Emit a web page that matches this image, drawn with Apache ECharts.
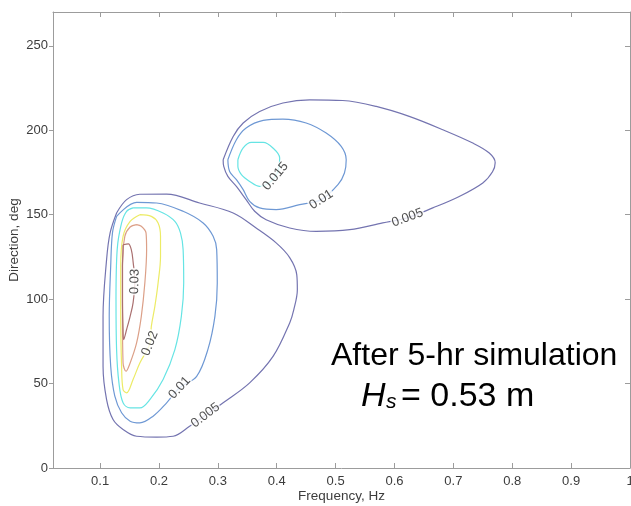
<!DOCTYPE html>
<html>
<head>
<meta charset="utf-8">
<script src="https://cdn.jsdelivr.net/npm/echarts@6/dist/echarts.min.js"></script>
<style>
  html, body { margin: 0; padding: 0; background: #fff; }
  #chart { width: 631px; height: 506px; }
</style>
</head>
<body>
<div id="chart"></div>
<script>
// Directional wave spectrum contours: frequency (Hz) vs direction (deg).
// Each contour loop is a list of [frequency, direction] points.

const contourLevels = [0.005, 0.01, 0.015, 0.02, 0.025, 0.03];

const xTickValues = [0.1, 0.2, 0.3, 0.4, 0.5, 0.6, 0.7, 0.8, 0.9, 1.0];
const yTickValues = [0, 50, 100, 150, 200, 250];

// Low-frequency system (lower left)
const swellA_005 = [[0.128,151.0],[0.145,158.9],[0.1675,162.1],[0.213,162.2],[0.269,156.9],[0.326,151.0],[0.365,142.1],[0.399,133.3],[0.422,124.6],[0.434,114.5],[0.435,105.6],[0.429,93.8],[0.422,85.9],[0.394,66.2],[0.354,50.4],[0.309,38.6],[0.279,31.2],[0.252,24.7],[0.224,18.8],[0.196,18.3],[0.162,18.8],[0.139,22.8],[0.122,28.7],[0.111,40.5],[0.105,60.2],[0.105,89.8],[0.111,123.4],[0.117,139.2],[0.128,151.0]];
const swellA_010 = [[0.128,149.0],[0.162,157.3],[0.196,156.9],[0.241,152.0],[0.275,145.1],[0.292,137.2],[0.298,129.3],[0.299,109.6],[0.295,89.8],[0.283,70.1],[0.264,54.3],[0.235,47.5],[0.213,38.6],[0.190,30.7],[0.1675,26.7],[0.151,27.7],[0.1365,32.7],[0.125,42.5],[0.118,60.2],[0.1155,89.8],[0.118,119.4],[0.121,139.2],[0.128,149.0]];
const swellA_015 = [[0.156,154.0],[0.179,154.0],[0.207,151.0],[0.227,146.0],[0.2365,139.2],[0.241,129.3],[0.242,109.6],[0.238,89.8],[0.227,70.1],[0.207,52.4],[0.1845,40.5],[0.1675,35.6],[0.151,35.6],[0.139,38.6],[0.132,50.4],[0.128,70.1],[0.127,99.7],[0.129,129.3],[0.1365,145.1],[0.145,152.0],[0.156,154.0]];
const swellA_020 = [[0.1675,150.0],[0.187,149.0],[0.1985,145.1],[0.2026,137.2],[0.2026,125.3],[0.1985,109.6],[0.193,95.7],[0.187,83.9],[0.1845,73.7],[0.1675,62.2],[0.156,52.4],[0.145,44.5],[0.139,46.4],[0.1365,60.2],[0.135,89.8],[0.135,119.4],[0.139,137.2],[0.151,146.0],[0.1675,150.0]];
const swellA_025 = [[0.162,144.1],[0.170,143.1],[0.178,139.2],[0.179,129.3],[0.176,109.6],[0.170,89.8],[0.162,74.1],[0.151,62.2],[0.144,57.3],[0.139,62.2],[0.138,89.8],[0.138,119.4],[0.142,137.2],[0.151,142.7],[0.162,144.1]];
const swellA_030 = [[0.139,132.2],[0.148,132.7],[0.153,129.3],[0.156,122.2],[0.159,110.4],[0.156,97.8],[0.151,89.8],[0.145,82.0],[0.140,76.0],[0.139,82.0],[0.138,99.7],[0.138,119.4],[0.139,129.3],[0.139,132.2]];

// Higher-frequency system (upper right)
const seaB_005 = [[0.309,182.5],[0.326,196.3],[0.343,204.3],[0.371,211.1],[0.4105,216.1],[0.456,218.0],[0.512,217.6],[0.569,214.1],[0.625,208.2],[0.682,200.3],[0.733,192.4],[0.761,186.5],[0.771,180.8],[0.7665,175.4],[0.750,168.8],[0.710,160.8],[0.665,154.0],[0.622,148.2],[0.580,145.1],[0.524,141.1],[0.467,140.1],[0.422,142.1],[0.382,147.0],[0.3625,152.0],[0.348,158.9],[0.3315,166.7],[0.317,172.7],[0.310,178.6],[0.309,182.5]];
const seaB_010 = [[0.317,182.5],[0.3315,194.4],[0.348,201.3],[0.377,205.8],[0.4105,206.6],[0.450,204.3],[0.484,198.3],[0.5095,190.4],[0.518,182.5],[0.515,174.7],[0.504,167.8],[0.4756,158.9],[0.439,155.9],[0.399,153.0],[0.371,154.0],[0.354,157.9],[0.343,164.8],[0.3315,170.7],[0.320,175.6],[0.317,182.5]];
const seaB_015 = [[0.334,182.5],[0.343,189.5],[0.357,192.8],[0.377,192.8],[0.3935,189.5],[0.405,183.6],[0.398,172.7],[0.371,166.7],[0.354,169.7],[0.340,173.7],[0.334,178.6],[0.334,182.5]];

// Inline contour labels: level text and anchor point [frequency, direction]
const labelTexts  = ['0.005', '0.01', '0.02', '0.03', '0.015', '0.01', '0.005'];
const labelPoints = [[0.279,31.2],[0.235,47.5],[0.1845,73.7],[0.159,110.4],[0.398,172.7],[0.4756,158.9],[0.622,148.2]];

// ---- rendering ----
const levelColor = {
  0.005: '#7474b0',
  0.01:  '#6e98d4',
  0.015: '#66e4e4',
  0.02:  '#eceb66',
  0.025: '#dca088',
  0.03:  '#aa7070'
};
const labelAngles = [37, 47, 68, 88, 50, 33, 20];

const loops = [
  [swellA_005, 0.005], [swellA_010, 0.01], [swellA_015, 0.015],
  [swellA_020, 0.02], [swellA_025, 0.025], [swellA_030, 0.03],
  [seaB_005, 0.005], [seaB_010, 0.01], [seaB_015, 0.015]
];

const FONT = '"Liberation Sans", Arial, Helvetica, sans-serif';
const AXIS_GRAY = '#9c9c9c';
const TEXT_GRAY = '#3c3c3c';

const series = loops.map(([pts, lvl]) => ({
  type: 'line',
  name: String(lvl),
  data: pts,
  showSymbol: false,
  symbol: 'none',
  smooth: 0.35,
  silent: true,
  z: 2,
  lineStyle: { color: levelColor[lvl], width: 1.2 }
}));

series.push({
  type: 'scatter',
  name: 'labels',
  silent: true,
  z: 5,
  symbolSize: 1,
  itemStyle: { color: 'rgba(0,0,0,0)' },
  data: labelPoints.map((p, i) => ({
    value: p,
    name: labelTexts[i],
    label: { rotate: labelAngles[i] }
  })),
  label: {
    show: true,
    position: 'inside',
    formatter: (p) => p.name,
    color: '#262626',
    fontSize: 13,
    fontFamily: FONT,
    backgroundColor: '#fff',
    padding: [0, 1]
  }
});

const xLabelFmt = (v) => (Math.abs(v - 1) < 1e-9 ? '1' : Number(v).toFixed(1));

const option = {
  animation: false,
  backgroundColor: '#fff',
  grid: { left: 53, right: 1, top: 12, bottom: 38, outerBoundsMode: 'none', containLabel: false },
  xAxis: [
    {
      type: 'value', min: 0.02, max: 1.0, position: 'bottom',
      name: 'Frequency, Hz', nameLocation: 'middle', nameGap: 21, nameMoveOverlap: false,
      nameTextStyle: { fontFamily: FONT, fontSize: 13.5, color: TEXT_GRAY },
      axisLine: { show: true, onZero: false, lineStyle: { color: AXIS_GRAY, width: 1 } },
      axisTick: { show: true, inside: true, length: 5, customValues: xTickValues, lineStyle: { color: AXIS_GRAY } },
      axisLabel: { customValues: xTickValues, formatter: xLabelFmt, margin: 7, fontFamily: FONT, fontSize: 13, color: TEXT_GRAY },
      splitLine: { show: false }
    },
    {
      type: 'value', min: 0.02, max: 1.0, position: 'top',
      axisLine: { show: true, onZero: false, lineStyle: { color: AXIS_GRAY, width: 1 } },
      axisTick: { show: true, inside: true, length: 5, customValues: xTickValues, lineStyle: { color: AXIS_GRAY } },
      axisLabel: { show: false },
      splitLine: { show: false }
    }
  ],
  yAxis: [
    {
      type: 'value', min: 0, max: 270, position: 'left',
      name: 'Direction, deg', nameLocation: 'middle', nameGap: 32, nameRotate: 90, nameMoveOverlap: false,
      nameTextStyle: { fontFamily: FONT, fontSize: 13.5, color: TEXT_GRAY },
      axisLine: { show: true, onZero: false, lineStyle: { color: AXIS_GRAY, width: 1 } },
      axisTick: { show: true, inside: false, length: 4, customValues: yTickValues, lineStyle: { color: AXIS_GRAY } },
      axisLabel: { customValues: yTickValues, margin: 5, fontFamily: FONT, fontSize: 13, color: TEXT_GRAY },
      splitLine: { show: false }
    },
    {
      type: 'value', min: 0, max: 270, position: 'right',
      axisLine: { show: true, onZero: false, lineStyle: { color: AXIS_GRAY, width: 1 } },
      axisTick: { show: true, inside: true, length: 5, customValues: yTickValues, lineStyle: { color: AXIS_GRAY } },
      axisLabel: { show: false },
      splitLine: { show: false }
    }
  ],
  graphic: [
    { type: 'text', x: 331, y: 356, z: 10,
      style: { text: 'After 5-hr simulation', font: '32px ' + FONT, fill: '#000', verticalAlign: 'middle', align: 'left' } },
    { type: 'text', x: 361, y: 397, z: 10,
      style: { text: 'H', font: 'italic 34px ' + FONT, fill: '#000', verticalAlign: 'middle', align: 'left' } },
    { type: 'text', x: 386, y: 402, z: 10,
      style: { text: 's', font: 'italic 21px ' + FONT, fill: '#000', verticalAlign: 'middle', align: 'left' } },
    { type: 'text', x: 401, y: 397, z: 10,
      style: { text: '= 0.53 m', font: '34px ' + FONT, fill: '#000', verticalAlign: 'middle', align: 'left' } }
  ],
  series: series
};

const chart = echarts.init(document.getElementById('chart'), null, { renderer: 'canvas' });
chart.setOption(option);
</script>
</body>
</html>
